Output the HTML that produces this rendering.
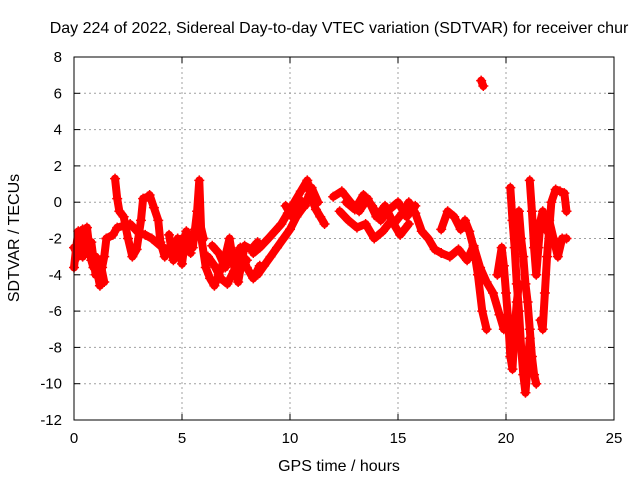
<!DOCTYPE html>
<html><head><meta charset="utf-8"><style>
body{margin:0;background:#fff}
svg{display:block;font-family:"Liberation Sans",sans-serif}
</style></head><body>
<svg id="chart" width="640" height="480" viewBox="0 0 640 480">
<rect width="640" height="480" fill="#fff"/>
<text x="339" y="33" font-size="16" text-anchor="middle" fill="#000">Day 224 of 2022, Sidereal Day-to-day VTEC variation (SDTVAR) for receiver chur</text>
<g id="grid"></g>
<g id="ticks"></g>
<g id="marks"></g>
<rect x="74" y="57" width="540" height="363" fill="none" stroke="#000" stroke-width="1"/>
<text x="339" y="471" font-size="16" text-anchor="middle">GPS time / hours</text>
<text transform="translate(19,238) rotate(-90)" font-size="16" text-anchor="middle">SDTVAR / TECUs</text>
</svg>
<script>
const xTicks=[0,5,10,15,20,25];
const yTicks=[8,6,4,2,0,-2,-4,-6,-8,-10,-12];
const trackA_t=[0,0.1,0.2,0.3,0.4,0.5,0.6,0.7,0.8,0.9,1.0,1.1,1.2,1.3,1.4,1.5];
const trackA_v=[-3.6,-2.5,-1.6,-2.4,-3.0,-2.0,-1.4,-2.4,-3.2,-3.6,-3.0,-4.0,-4.6,-3.6,-3.0,-2.0];
const trackA2_t=[0.0,0.2,0.4,0.6,0.8,1.0,1.2,1.4];
const trackA2_v=[-2.5,-3.0,-1.5,-2.8,-2.2,-4.0,-3.2,-4.4];
const trackB_t=[1.5,1.8,2.0,2.3,2.6,3.0,3.3,3.6,4.0,4.3];
const trackB_v=[-2.0,-1.8,-1.4,-1.3,-1.2,-1.7,-1.8,-2.0,-2.4,-2.6];
const trackC_t=[1.9,2.0,2.1,2.3,2.5,2.7,2.9,3.1,3.2,3.4];
const trackC_v=[1.3,0.2,-0.5,-0.8,-2.0,-3.0,-2.6,-1.0,0.2,0.3];
const trackD_t=[3.5,3.7,3.9,4.0,4.2,4.5,4.8,5.0,5.3,5.6,5.8,6.0];
const trackD_v=[0.4,-0.3,-1.0,-2.2,-3.0,-2.4,-3.0,-2.0,-2.5,-1.5,-1.0,-2.0];
const trackD2_t=[4.4,4.6,4.8,5.0,5.2,5.4];
const trackD2_v=[-1.8,-3.2,-2.0,-3.4,-1.6,-2.8];
const trackE_t=[5.5,5.7,5.8,5.9,6.1,6.3,6.5,6.7,7.0,7.2,7.4,7.6,7.8,8.0];
const trackE_v=[-2.5,-0.5,1.2,-2.0,-3.6,-4.2,-4.6,-4.0,-3.0,-2.0,-3.5,-4.0,-3.0,-3.2];
const trackF_t=[6.2,6.5,6.8,7.1,7.4,7.7,8.0,8.3,8.6];
const trackF_v=[-3.0,-3.5,-4.2,-4.5,-3.8,-2.5,-3.6,-4.2,-3.5];
const trackF2_t=[6.4,6.7,7.0,7.3,7.6,7.9,8.2,8.5];
const trackF2_v=[-2.4,-2.8,-3.6,-2.6,-4.4,-2.4,-2.6,-2.2];
const trackG_t=[8.3,8.6,9.0,9.3,9.6,9.9,10.2,10.5,10.8,11.0,11.2,11.4,11.6];
const trackG_v=[-2.8,-2.5,-2.0,-1.6,-1.2,-0.6,0.0,0.6,1.2,0.2,-0.4,-0.8,-1.2];
const trackH_t=[8.5,8.8,9.1,9.4,9.7,10.0,10.3,10.6,10.9];
const trackH_v=[-4.0,-3.5,-3.0,-2.5,-2.0,-1.5,-0.8,-0.3,0.4];
const trackH2_t=[9.8,10.1,10.4,10.7,11.0,11.3];
const trackH2_v=[-0.2,-0.8,0.2,-0.2,0.8,0.0];
const trackI_t=[12.0,12.4,12.8,13.2,13.6,14.0,14.4,14.8,15.2,15.5,15.8,16.1,16.4,16.7,17.0];
const trackI_v=[0.3,0.6,0.0,-0.5,0.2,-0.8,-0.2,-1.2,-0.6,0.0,-0.6,-1.6,-2.0,-2.6,-2.8];
const trackJ_t=[12.3,12.7,13.1,13.5,13.9,14.3,14.7,15.1,15.5];
const trackJ_v=[-0.5,-1.0,-1.4,-1.2,-2.0,-1.6,-1.0,-1.8,-1.2];
const trackJ2_t=[12.6,13.0,13.4,13.8,14.2,14.6,15.0,15.4,15.8];
const trackJ2_v=[0.0,-0.4,0.4,-0.2,-1.0,-0.4,0.0,-0.8,-0.2];
const trackK_t=[17.0,17.3,17.6,17.9,18.1,18.3,18.5,18.7,18.9,19.1];
const trackK_v=[-1.5,-0.5,-0.8,-1.5,-1.0,-1.6,-2.5,-4.0,-6.0,-7.0];
const trackL_t=[17.0,17.4,17.8,18.2,18.5,18.8,19.1,19.4,19.7,19.9];
const trackL_v=[-2.8,-3.0,-2.6,-3.2,-2.4,-3.6,-4.4,-5.0,-6.2,-7.0];
const trackM_t=[19.6,19.8,19.9,20.0,20.1,20.2,20.3,20.4,20.5,20.6];
const trackM_v=[-4.0,-2.5,-3.5,-5.0,-6.5,-8.5,-9.2,-7.0,-5.5,-4.5];
const trackN_t=[20.2,20.3,20.4,20.5,20.6,20.7,20.8,20.9,21.0,21.1];
const trackN_v=[0.8,-1.0,-2.5,-4.5,-6.0,-8.0,-9.5,-10.5,-9.0,-7.5];
const trackO_t=[20.6,20.7,20.8,20.9,21.0,21.1,21.2,21.3,21.4];
const trackO_v=[-0.5,-2.0,-3.0,-4.5,-5.5,-7.0,-8.5,-9.5,-10.0];
const trackP_t=[21.1,21.2,21.3,21.4,21.5,21.6,21.7,21.8];
const trackP_v=[1.2,-0.5,-2.5,-4.0,-2.5,-1.0,-0.5,-1.5];
const trackQ_t=[21.6,21.7,21.8,21.9,22.0,22.1,22.3,22.5,22.7,22.8];
const trackQ_v=[-6.5,-7.0,-5.0,-3.0,-1.5,0.0,0.7,0.6,0.5,-0.5];
const trackR_t=[22.0,22.2,22.4,22.6,22.8];
const trackR_v=[-1.0,-2.0,-3.0,-2.0,-2.0];
const trackS_t=[18.85,18.95];
const trackS_v=[6.7,6.4];
const tracks=[[trackA_t,trackA_v],[trackA2_t,trackA2_v],[trackB_t,trackB_v],[trackC_t,trackC_v],[trackD_t,trackD_v],[trackD2_t,trackD2_v],[trackE_t,trackE_v],[trackF_t,trackF_v],[trackF2_t,trackF2_v],[trackG_t,trackG_v],[trackH_t,trackH_v],[trackH2_t,trackH2_v],[trackI_t,trackI_v],[trackJ_t,trackJ_v],[trackJ2_t,trackJ2_v],[trackK_t,trackK_v],[trackL_t,trackL_v],[trackM_t,trackM_v],[trackN_t,trackN_v],[trackO_t,trackO_v],[trackP_t,trackP_v],[trackQ_t,trackQ_v],[trackR_t,trackR_v],[trackS_t,trackS_v]];
const NS='http://www.w3.org/2000/svg';
const X=t=>74+t*21.6, Y=v=>57+(8-v)*18.15;
function mk(tag,attrs,parent){const e=document.createElementNS(NS,tag);for(const k in attrs)e.setAttribute(k,attrs[k]);parent.appendChild(e);return e;}
const grid=document.getElementById('grid'),ticks=document.getElementById('ticks'),marks=document.getElementById('marks');
xTicks.forEach(t=>{
  if(t>0&&t<25){const g=mk('line',{x1:X(t),x2:X(t),y1:57,y2:420,stroke:'#a0a0a0','stroke-dasharray':'2,3'},grid);
  
  }
  mk('line',{x1:X(t),x2:X(t),y1:420,y2:414,stroke:'#000'},ticks);
  mk('line',{x1:X(t),x2:X(t),y1:57,y2:63,stroke:'#000'},ticks);
  const l=mk('text',{x:X(t),y:443,'font-size':15,'text-anchor':'middle'},ticks);l.textContent=t;
  
  
});
yTicks.forEach(v=>{
  if(v<8&&v>-12){const g=mk('line',{x1:74,x2:614,y1:Y(v),y2:Y(v),stroke:'#a0a0a0','stroke-dasharray':'2,3'},grid);
  
  }
  mk('line',{x1:74,x2:80,y1:Y(v),y2:Y(v),stroke:'#000'},ticks);
  mk('line',{x1:614,x2:608,y1:Y(v),y2:Y(v),stroke:'#000'},ticks);
  const l=mk('text',{x:62,y:Y(v)+5,'font-size':15,'text-anchor':'end'},ticks);l.textContent=v;
  
  
});
tracks.forEach(([ts,vs])=>{
  const pts=ts.map((t,i)=>X(t)+','+Y(vs[i])).join(' ');
  const pl=mk('polyline',{points:pts,fill:'none',stroke:'#f00','stroke-width':8,'stroke-linejoin':'round','stroke-linecap':'round'},marks);
  
  
  ts.forEach((t,i)=>{
    const x=X(t),y=Y(vs[i]);
    const p=mk('path',{d:`M${x-5},${y}H${x+5}M${x},${y-5}V${y+5}`,stroke:'#f00','stroke-width':1.5},marks);
    
    
  });
});
</script>
</body></html>
